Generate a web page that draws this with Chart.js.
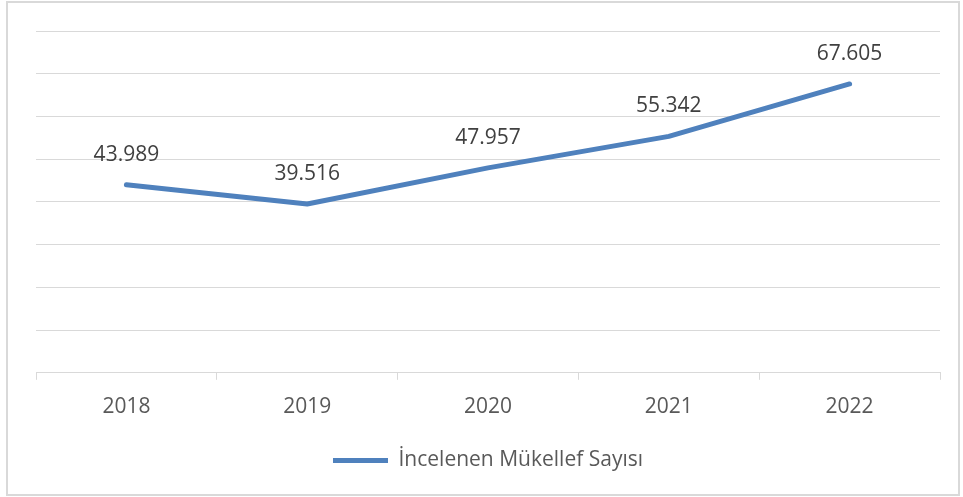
<!DOCTYPE html>
<html>
<head>
<meta charset="utf-8">
<script src="https://cdn.jsdelivr.net/npm/chart.js@4"></script>
<style>
  html, body { margin: 0; padding: 0; background: #fff; }
  #wrap { position: relative; width: 963px; height: 497px; }
</style>
</head>
<body>
<div id="wrap"><canvas id="myChart"></canvas></div>
<script>
document.addEventListener("DOMContentLoaded", function () {

const years = ['2018', '2019', '2020', '2021', '2022'];
const mukellefSayisi = [43989, 39516, 47957, 55342, 67605];
const seriesName = 'İncelenen Mükellef Sayısı';
const yMin = 0, yMax = 80000, yStep = 10000;

const FONT = '"Open Sans", "Liberation Sans", sans-serif';

// 43989 -> "43.989"
function fmt(v) {
    return String(v).replace(/\B(?=(\d{3})+(?!\d))/g, '.');
}

const frame = {
    id: 'frame',
    beforeDraw(chart) {
        const ctx = chart.ctx;
        ctx.save();
        ctx.fillStyle = '#fff';
        ctx.fillRect(0, 0, chart.width, chart.height);
        ctx.strokeStyle = '#d9d9d9';
        ctx.lineWidth = 2;
        ctx.strokeRect(7, 2, 952, 493);
        ctx.restore();
    }
};

const valueLabels = {
    id: 'valueLabels',
    afterDatasetsDraw(chart) {
        const ctx = chart.ctx;
        const meta = chart.getDatasetMeta(0);
        ctx.save();
        ctx.font = '21px ' + FONT;
        ctx.fillStyle = '#404040';
        ctx.textAlign = 'center';
        ctx.textBaseline = 'middle';
        meta.data.forEach(function (pt, i) {
            ctx.fillText(fmt(chart.data.datasets[0].data[i]), pt.x, pt.y - 30);
        });
        ctx.restore();
    }
};

const data = {
    labels: years,
    datasets: [{
        label: seriesName,
        data: mukellefSayisi,
        borderColor: '#4f81bd',
        backgroundColor: '#4f81bd',
        borderWidth: 5,
        borderCapStyle: 'round',
        borderJoinStyle: 'round',
        pointRadius: 0,
        pointHoverRadius: 0,
        tension: 0
    }]
};

const config = {
    type: 'line',
    data: data,
    options: {
        responsive: true,
        maintainAspectRatio: false,
        animation: false,
        layout: { padding: { left: 36, right: 23, top: 31, bottom: 16 } },
        scales: {
            x: {
                offset: true,
                grid: { offset: true, drawOnChartArea: false, color: '#d9d9d9', tickLength: 7 },
                border: { color: '#d9d9d9', width: 1 },
                ticks: { color: '#595959', font: { family: FONT, size: 21 }, padding: 15 }
            },
            y: {
                min: yMin,
                max: yMax,
                ticks: { display: false, stepSize: yStep },
                grid: { color: '#d9d9d9', drawTicks: false },
                border: { display: false }
            }
        },
        plugins: {
            tooltip: { enabled: false },
            legend: {
                position: 'bottom',
                labels: {
                    usePointStyle: true,
                    pointStyle: 'line',
                    pointStyleWidth: 55,
                    boxHeight: 5,
                    padding: 15,
                    color: '#595959',
                    font: { family: FONT, size: 21 }
                }
            }
        }
    },
    plugins: [frame, valueLabels]
};

new Chart(document.getElementById('myChart'), config);

});
</script>
</body>
</html>
